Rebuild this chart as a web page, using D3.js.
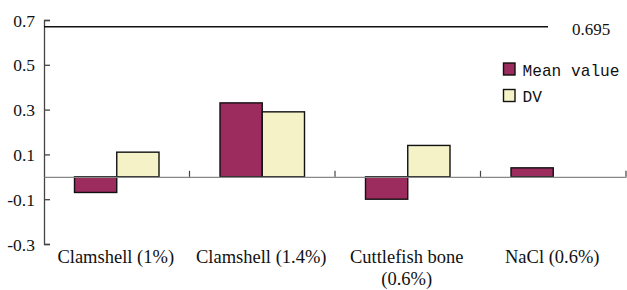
<!DOCTYPE html>
<html>
<head>
<meta charset="utf-8">
<script src="https://cdn.jsdelivr.net/npm/d3@7"></script>
<style>
  body { margin: 0; background: #fff; }
  svg { display: block; }
  text { font-family: "Liberation Serif", "Times New Roman", serif; fill: #111; }
  .mono { font-family: "Liberation Mono", "Courier New", monospace; }
</style>
</head>
<body>
<svg id="chart" width="627" height="290"></svg>
<script>
var categories = ['Clamshell (1%)', 'Clamshell (1.4%)', 'Cuttlefish bone|(0.6%)', 'NaCl (0.6%)'];
var seriesNames = ['Mean value', 'DV'];
var meanValues = [-0.07, 0.33, -0.10, 0.04];
var dvValues = [0.11, 0.29, 0.14, 0];
var yTicks = [0.7, 0.5, 0.3, 0.1, -0.1, -0.3];
// reference line: drawn a little under 0.7 in the picture, labelled 0.695
var refValue = 0.67;
var refLabel = '0.695';

var colors = ['#9c2b5e', '#f4f2c6'];

var svg = d3.select('#chart');

var x0 = d3.scaleBand()
    .domain(categories)
    .range([44, 626])
    .padding(0);

var x1 = d3.scaleBand()
    .domain(seriesNames)
    .range([30.5, x0.bandwidth() - 30.5]);

var y = d3.scaleLinear()
    .domain([-0.3, 0.7])
    .range([244, 20]);

// y axis (labels drawn separately so they keep the serif face)
var yAxis = d3.axisLeft(y)
    .tickValues(yTicks)
    .tickSize(-6)
    .tickFormat('');

var gy = svg.append('g')
    .attr('transform', 'translate(44,0)')
    .call(yAxis);
gy.select('.domain').attr('stroke', '#444').attr('stroke-width', 1.3);
gy.selectAll('.tick line').attr('stroke', '#444').attr('stroke-width', 1.3);

svg.append('g').selectAll('text')
    .data(yTicks)
  .enter().append('text')
    .attr('x', 35)
    .attr('y', function(d) { return y(d) + 6.5; })
    .attr('text-anchor', 'end')
    .style('font-size', '17.5px')
    .text(function(d) { return d.toFixed(1); });

// bars
var rows = categories.map(function(c, i) {
  return { cat: c, values: [meanValues[i], dvValues[i]] };
});

svg.append('g').selectAll('g')
    .data(rows)
  .enter().append('g')
    .attr('transform', function(d) { return 'translate(' + x0(d.cat) + ',0)'; })
  .selectAll('rect')
    .data(function(d) {
      return d.values.map(function(v, j) { return { name: seriesNames[j], value: v, j: j }; })
        .filter(function(e) { return e.value !== 0; });
    })
  .enter().append('rect')
    .attr('x', function(d) { return x1(d.name); })
    .attr('width', x1.bandwidth())
    .attr('y', function(d) { return y(Math.max(0, d.value)); })
    .attr('height', function(d) { return Math.abs(y(d.value) - y(0)); })
    .attr('fill', function(d) { return colors[d.j]; })
    .attr('stroke', '#111')
    .attr('stroke-width', 1.4);

// zero axis with category ticks
var xAxis = d3.axisBottom(x0).tickSize(0).tickFormat('');
var gx = svg.append('g')
    .attr('transform', 'translate(0,' + y(0) + ')')
    .call(xAxis);
gx.select('.domain').attr('stroke', '#888').attr('stroke-width', 1.2);

svg.append('g').selectAll('line')
    .data(categories)
  .enter().append('line')
    .attr('x1', function(d) { return x0(d) + x0.bandwidth(); })
    .attr('x2', function(d) { return x0(d) + x0.bandwidth(); })
    .attr('y1', y(0))
    .attr('y2', y(0) - 6)
    .attr('stroke', '#444')
    .attr('stroke-width', 1.2);

// category labels
svg.append('g').selectAll('text')
    .data(categories)
  .enter().append('text')
    .attr('text-anchor', 'middle')
    .style('font-size', '18.5px')
    .each(function(d) {
      var parts = d.split('|');
      var t = d3.select(this);
      var cx = x0(d) + x0.bandwidth() / 2 - 1;
      parts.forEach(function(p, k) {
        t.append('tspan')
            .attr('x', cx)
            .attr('y', 263 + k * 22)
            .text(p);
      });
    });

// reference line
svg.append('line')
    .attr('x1', 44)
    .attr('x2', 548)
    .attr('y1', y(refValue))
    .attr('y2', y(refValue))
    .attr('stroke', '#111')
    .attr('stroke-width', 1.5);

svg.append('text')
    .attr('x', 572)
    .attr('y', 35)
    .style('font-size', '17px')
    .text(refLabel);

// legend
var legend = svg.append('g').selectAll('g')
    .data(seriesNames)
  .enter().append('g')
    .attr('transform', function(d, i) { return 'translate(503.5,' + (63 + i * 26.5) + ')'; });

legend.append('rect')
    .attr('width', 11.5)
    .attr('height', 12)
    .attr('fill', function(d, i) { return colors[i]; })
    .attr('stroke', '#111')
    .attr('stroke-width', 1.4);

legend.append('text')
    .attr('class', 'mono')
    .attr('x', 19)
    .attr('y', 12.5)
    .style('font-size', '17px')
    .attr('textLength', function(d) { return d.length * 9.7; })
    .attr('lengthAdjust', 'spacingAndGlyphs')
    .text(function(d) { return d; });
</script>
</body>
</html>
